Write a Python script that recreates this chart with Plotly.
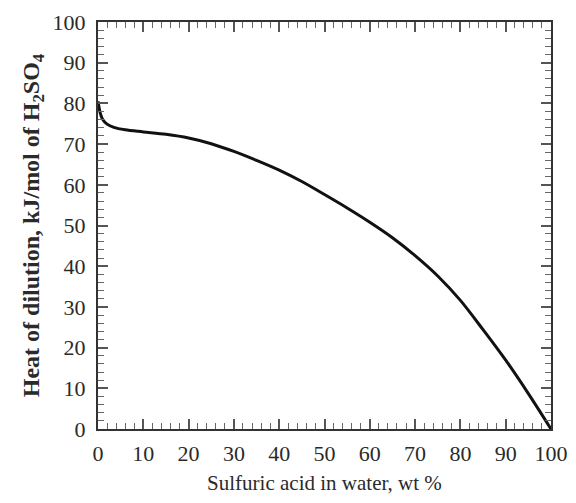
import plotly.graph_objects as go

# Sulfuric acid concentration (wt %) and heat of dilution (kJ/mol H2SO4)
acid_wt_pct = [0, 0.5, 1, 2, 3.5, 6, 10, 15, 20, 25, 30, 35, 40, 45, 50,
               55, 60, 65, 70, 75, 80, 85, 90, 95, 100]
heat_of_dilution = [80.5, 77.6, 76.1, 74.9, 74.1, 73.5, 73.0, 72.4, 71.5, 70.1,
                    68.2, 66.0, 63.6, 60.8, 57.6, 54.3, 50.8, 47.0, 42.6, 37.6,
                    31.6, 24.4, 16.9, 8.7, 0.0]

x_ticks = [0, 10, 20, 30, 40, 50, 60, 70, 80, 90, 100]
y_ticks = [0, 10, 20, 30, 40, 50, 60, 70, 80, 90, 100]

font_family = "Liberation Serif, Times New Roman, serif"
text_color = "#2a2a2a"

fig = go.Figure()
fig.add_trace(go.Scatter(
    x=acid_wt_pct, y=heat_of_dilution, mode="lines",
    line=dict(color="#111111", width=3, shape="spline", smoothing=0.9),
    showlegend=False, hoverinfo="skip",
))

axis_common = dict(
    showgrid=False, zeroline=False, automargin=False,
    showline=True, linecolor="#333333", linewidth=2, mirror="allticks",
    ticks="inside", ticklen=10, tickwidth=1.5, tickcolor="#555555",
    minor=dict(ticks="inside", ticklen=6, tickwidth=1.2, tickcolor="#666666", dtick=2),
    tickfont=dict(family=font_family, size=22, color=text_color),
)

fig.update_xaxes(
    range=[0, 100], tickvals=x_ticks, ticktext=[str(v) for v in x_ticks],
    title=dict(text="Sulfuric acid in water, wt %",
               font=dict(family=font_family, size=21, color=text_color), standoff=12),
    ticklabelstandoff=4,
    **axis_common,
)
fig.update_yaxes(
    range=[0, 100], tickvals=y_ticks, ticktext=[str(v) for v in y_ticks],
    title=dict(text="<b>Heat of dilution, kJ/mol of H<sub>2</sub>SO<sub>4</sub></b>",
               font=dict(family=font_family, size=24, color=text_color), standoff=6),
    ticklabelstandoff=6,
    **axis_common,
)

# The page body adds an 8px margin, so the figure is sized to fit the window.
fig.update_layout(
    width=560, height=487,
    margin=dict(l=90, r=17, t=14, b=66),
    paper_bgcolor="white", plot_bgcolor="white",
    font=dict(family=font_family, color=text_color),
)

fig.write_html("out.html")
